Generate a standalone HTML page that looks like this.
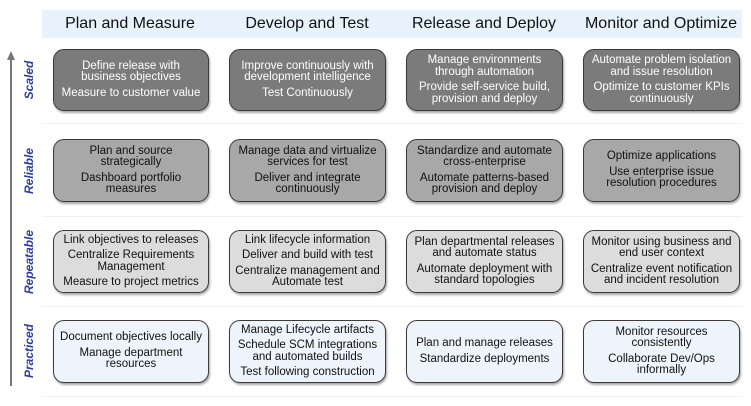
<!DOCTYPE html>
<html><head><meta charset="utf-8"><style>
body{margin:0;width:751px;height:406px;background:#fff;position:relative;overflow:hidden;font-family:"Liberation Sans",Arial,sans-serif}
.hdr{position:absolute;left:42px;top:10px;width:700px;height:28px;background:#e8f2fc}
.h{position:absolute;top:10px;height:28px;line-height:28px;font-size:16px;color:#111;text-align:center;width:176px}
.b{position:absolute;border:1.5px solid #3a3a3a;border-radius:11px;box-sizing:border-box;display:flex;flex-direction:column;justify-content:center;align-items:center;text-align:center;font-size:11.5px;line-height:11.5px;box-shadow:1px 2px 2px rgba(0,0,0,0.35)}
.b p{margin:2px 0}
.s{background:#7b7b7b;color:#fff}
.r{background:#a8a8a8;color:#111}
.p{background:#dcdcdc;color:#111}
.q{background:#eef4fb;color:#111}
.lab{position:absolute;left:29px;transform:translate(-50%,-50%) rotate(-90deg);font-size:12px;font-weight:bold;font-style:italic;color:#2a3ea6;white-space:nowrap}
.sep{position:absolute;left:42px;width:700px;height:1px;background:#f1f1f1}
</style></head><body>
<div class="hdr"></div>
<div class="h" style="left:42px">Plan and Measure</div>
<div class="h" style="left:219px">Develop and Test</div>
<div class="h" style="left:396px">Release and Deploy</div>
<div class="h" style="left:573px">Monitor and Optimize</div>
<div class="sep" style="top:123px"></div><div class="sep" style="top:216px"></div><div class="sep" style="top:306px"></div><div class="sep" style="top:396px"></div>
<svg style="position:absolute;left:0;top:0" width="40" height="406"><line x1="11" y1="58" x2="11" y2="386" stroke="#777" stroke-width="2"/><polygon points="11,51 7,60 15,60" fill="#777"/></svg>
<div class="lab" style="top:80px">Scaled</div>
<div class="lab" style="top:171px">Reliable</div>
<div class="lab" style="top:262px">Repeatable</div>
<div class="lab" style="top:351px">Practiced</div>

<div class="b s" style="left:53px;top:49px;width:156px;height:62px"><p>Define release with<br>business objectives</p><p>Measure to customer value</p></div>
<div class="b s" style="left:229px;top:49px;width:157px;height:62px"><p>Improve continuously with<br>development intelligence</p><p>Test Continuously</p></div>
<div class="b s" style="left:406px;top:49px;width:157px;height:62px"><p>Manage environments<br>through automation</p><p>Provide self-service build,<br>provision and deploy</p></div>
<div class="b s" style="left:583px;top:49px;width:157px;height:62px"><p>Automate problem isolation<br>and issue resolution</p><p>Optimize to customer KPIs<br>continuously</p></div>

<div class="b r" style="left:53px;top:139px;width:156px;height:63px"><p>Plan and source<br>strategically</p><p>Dashboard portfolio<br>measures</p></div>
<div class="b r" style="left:229px;top:139px;width:157px;height:63px"><p>Manage data and virtualize<br>services for test</p><p>Deliver and integrate<br>continuously</p></div>
<div class="b r" style="left:406px;top:139px;width:157px;height:63px"><p>Standardize and automate<br>cross-enterprise</p><p>Automate patterns-based<br>provision and deploy</p></div>
<div class="b r" style="left:583px;top:139px;width:157px;height:63px"><p>Optimize applications</p><p>Use enterprise issue<br>resolution procedures</p></div>

<div class="b p" style="left:53px;top:230px;width:156px;height:63px"><p>Link objectives to releases</p><p>Centralize Requirements<br>Management</p><p>Measure to project metrics</p></div>
<div class="b p" style="left:229px;top:230px;width:157px;height:63px"><p>Link lifecycle information</p><p>Deliver and build with test</p><p>Centralize management and<br>Automate test</p></div>
<div class="b p" style="left:406px;top:230px;width:157px;height:63px"><p>Plan departmental releases<br>and automate status</p><p>Automate deployment with<br>standard topologies</p></div>
<div class="b p" style="left:583px;top:230px;width:157px;height:63px"><p>Monitor using business and<br>end user context</p><p>Centralize event notification<br>and incident resolution</p></div>

<div class="b q" style="left:53px;top:320px;width:156px;height:63px"><p>Document objectives locally</p><p>Manage department<br>resources</p></div>
<div class="b q" style="left:229px;top:320px;width:157px;height:63px"><p>Manage Lifecycle artifacts</p><p>Schedule SCM integrations<br>and automated builds</p><p>Test following construction</p></div>
<div class="b q" style="left:406px;top:320px;width:157px;height:63px"><p>Plan and manage releases</p><p>Standardize deployments</p></div>
<div class="b q" style="left:583px;top:320px;width:157px;height:63px"><p>Monitor resources<br>consistently</p><p>Collaborate Dev/Ops<br>informally</p></div>
</body></html>
